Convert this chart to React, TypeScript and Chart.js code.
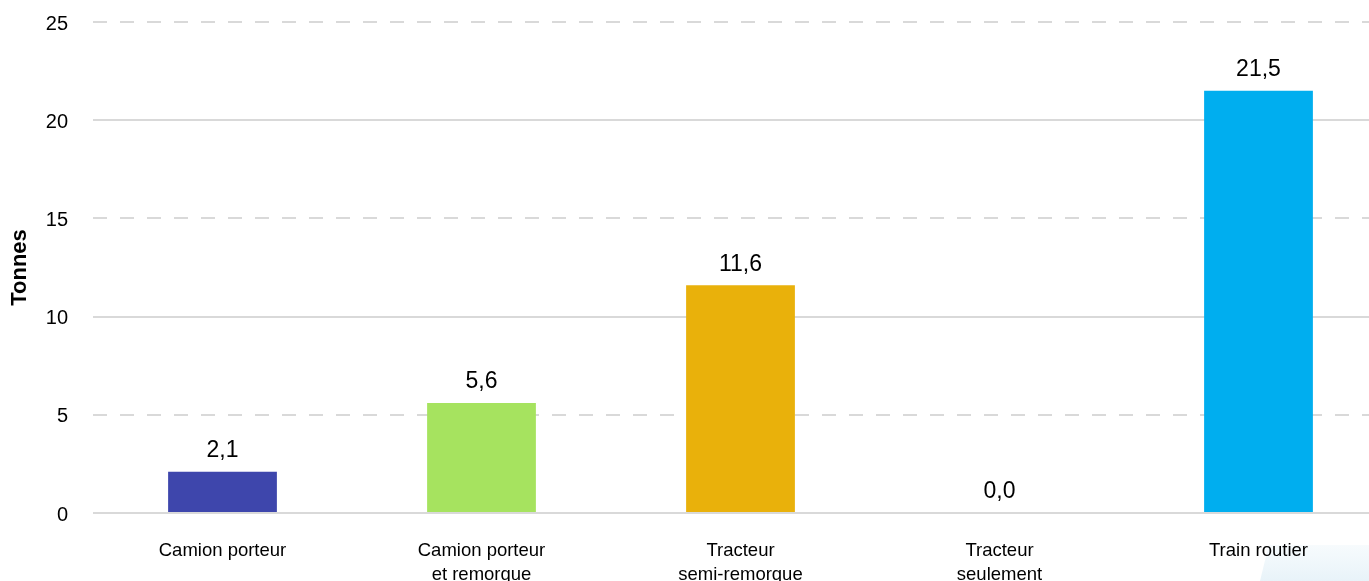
import React, { useEffect, useRef } from "react";
import { Chart, registerables } from "chart.js";

Chart.register(...registerables);

const categories: string[][] = [
  ["Camion porteur"],
  ["Camion porteur", "et remorque"],
  ["Tracteur", "semi-remorque"],
  ["Tracteur", "seulement"],
  ["Train routier"],
];
const values: number[] = [2.1, 5.6, 11.6, 0.0, 21.5];
const barColors: string[] = ["#3E46AC", "#A6E35F", "#E9B10B", "#5B9BD5", "#00AEEF"];
const yMin = 0;
const yMax = 25;
const yStep = 5;
const axisTitle = "Tonnes";

const FONT = '"Liberation Sans", Arial, Helvetica, sans-serif';

const fmt = (v: number) => v.toFixed(1).replace(".", ",");

const valueLabels = {
  id: "valueLabels",
  afterDatasetsDraw(chart: any) {
    const ctx = chart.ctx;
    const meta = chart.getDatasetMeta(0);
    ctx.save();
    ctx.font = `23px ${FONT}`;
    ctx.fillStyle = "#000000";
    ctx.textAlign = "center";
    ctx.textBaseline = "middle";
    meta.data.forEach((bar: any, i: number) => {
      ctx.fillText(fmt(values[i]), bar.x, bar.y - 21);
    });
    ctx.restore();
  },
};

export default function App() {
  const ref = useRef<HTMLCanvasElement | null>(null);

  useEffect(() => {
    document.body.style.margin = "0";
    document.body.style.overflow = "hidden";
    const canvas = ref.current;
    if (!canvas) return;
    const chart = new Chart(canvas, {
      type: "bar",
      data: {
        labels: categories,
        datasets: [
          {
            data: values,
            backgroundColor: barColors,
            borderWidth: 0,
            categoryPercentage: 1,
            barPercentage: 0.42,
          },
        ],
      },
      options: {
        responsive: false,
        animation: false,
        events: [],
        layout: { padding: { top: 22, right: 2, left: 0, bottom: 0 } },
        plugins: {
          legend: { display: false },
          tooltip: { enabled: false },
        },
        scales: {
          x: {
            grid: { display: false, drawTicks: false },
            border: { display: false },
            ticks: {
              color: "#000000",
              font: { family: FONT, size: 18.5, lineHeight: 1.3 },
              padding: 26,
              maxRotation: 0,
              autoSkip: false,
            },
            afterFit: (s: any) => {
              s.height = 68;
            },
          },
          y: {
            position: "left",
            min: yMin,
            max: yMax,
            ticks: {
              stepSize: yStep,
              color: "#000000",
              font: { family: FONT, size: 20 },
              padding: 25,
              labelOffset: 2,
            },
            grid: {
              drawTicks: false,
              lineWidth: 2,
              color: (c: any) =>
                c.tick && Math.round(c.tick.value) % 10 === 0 ? "#D9D9D9" : "rgba(0,0,0,0)",
            },
            border: { display: false },
            title: {
              display: true,
              text: axisTitle,
              color: "#000000",
              font: { family: FONT, size: 22, weight: "bold" },
              padding: { top: 7, bottom: 0 },
            },
            afterFit: (s: any) => {
              s.width = 93;
              s.paddingTop = 10;
              s.paddingBottom = 10;
            },
          },
          y2: {
            position: "left",
            min: yMin,
            max: yMax,
            ticks: { stepSize: yStep, display: false },
            grid: {
              drawTicks: false,
              lineWidth: 2,
              color: (c: any) =>
                c.tick && Math.round(c.tick.value) % 10 !== 0 ? "#D9D9D9" : "rgba(0,0,0,0)",
            },
            border: { display: false, dash: [14, 13] },
            afterFit: (s: any) => {
              s.width = 0;
              s.paddingTop = 0;
              s.paddingBottom = 0;
            },
          },
        },
      },
      plugins: [valueLabels],
    });
    return () => chart.destroy();
  }, []);

  return (
    <div
      style={{
        position: "fixed",
        left: 0,
        top: 0,
        width: 1369,
        height: 581,
        overflow: "hidden",
        background: "#ffffff",
      }}
    >
      <div
        style={{
          position: "absolute",
          left: 1260,
          top: 545,
          width: 109,
          height: 36,
          clipPath: "polygon(8% 0, 100% 0, 100% 100%, 0 100%)",
          background: "linear-gradient(180deg, #F7FBFD 0%, #E8F3F9 100%)",
        }}
      />
      <canvas
        ref={ref}
        width={1390}
        height={581}
        style={{ position: "absolute", left: 0, top: 0, width: 1390, height: 581 }}
      />
    </div>
  );
}
